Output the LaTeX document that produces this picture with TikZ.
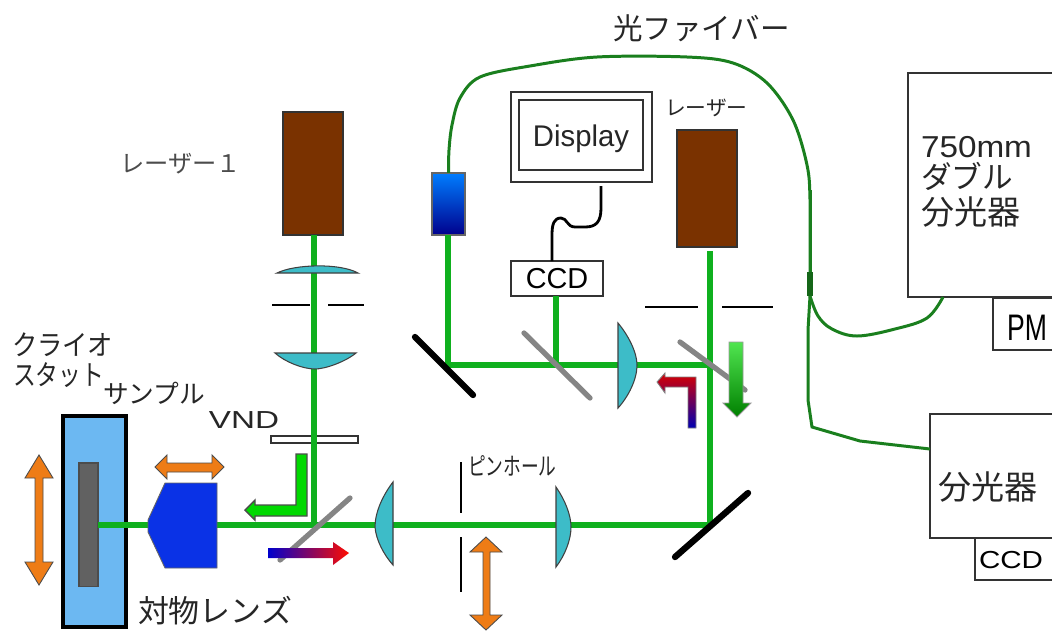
\documentclass[tikz,border=0pt]{standalone}
\usepackage{fontspec}
\setmainfont{Liberation Sans}
\newfontfamily\jp{Noto Sans CJK JP}
\usetikzlibrary{calc}
\definecolor{beamg}{HTML}{0FB01E}
\definecolor{fibg}{HTML}{1A7F1E}
\definecolor{laserb}{HTML}{7A3200}
\definecolor{lensc}{HTML}{3DBCC8}
\definecolor{cryo}{HTML}{6CB8F2}
\definecolor{orng}{HTML}{EE7C16}
\definecolor{objb}{HTML}{0A32E6}
\definecolor{graym}{HTML}{858585}
\tikzset{
 px/.style={x=0.01cm,y=-0.01cm},
 box/.style={draw=black!80,fill=white,line width=0.4pt,inner sep=0pt,outer sep=0pt},
 laser/.style={draw=black!80,fill=laserb,line width=0.4pt,inner sep=0pt,outer sep=0pt,minimum width=0.6cm},
 beam/.style={draw=beamg,line width=1.45pt},
 fiber/.style={draw=fibg,line width=0.85pt},
 lens/.style={draw=black!75,fill=lensc,line width=0.3pt},
 blackm/.style={draw=black,line width=1.8pt,line cap=round},
 graymir/.style={draw=graym,line width=1.5pt,line cap=round},
 slit/.style={draw=black,line width=0.8pt},
 orngarrow/.style={draw=black!70,fill=orng,line width=0.25pt},
 jtxt/.style={font=\jp\fontsize{8.4}{9}\selectfont,text=black!85,inner sep=0pt,outer sep=0pt,anchor=west},
 ltxt/.style={font=\fontsize{8.4}{9}\selectfont,text=black!85,inner sep=0pt,outer sep=0pt},
}
\begin{document}
\begin{tikzpicture}[px]
\useasboundingbox (0,0) rectangle (1052,630);
\clip (0,0) rectangle (1052,630);
\fill[white] (0,0) rectangle (1052,630);
% named points
\coordinate (join1) at (314,525);
\coordinate (corner2) at (710,525);
\coordinate (split2) at (710,365);
\coordinate (corner3) at (448,365);
\coordinate (tap) at (556,365);
\coordinate (sampleface) at (98,525);
\coordinate (fj1) at (810,272);
\coordinate (fj2) at (810,296);
% boxes
\node[laser,minimum height=1.23cm] (laser1) at (313,173.5) {};
\node[laser,minimum height=1.17cm] (laser2) at (707,188.5) {};
\node[draw=black,fill=cryo,line width=1.15pt,inner sep=0pt,minimum width=0.63cm,minimum height=2.11cm] (cryostat) at (94.5,521.5) {};
\node[draw=black!70,fill=black!62,line width=0.3pt,inner sep=0pt,minimum width=0.19cm,minimum height=1.23cm] (sample) at (88.5,524.5) {};
\node[box,minimum width=0.87cm,minimum height=0.07cm] (vnd) at (314.5,439.5) {};
\node[box,minimum width=1.41cm,minimum height=0.90cm] (dispo) at (581.5,137) {};
\node[box,minimum width=1.24cm,minimum height=0.70cm] (disp) at (581,135) {};
\node[ltxt,font=\fontsize{8.5}{9}\selectfont,xscale=.98] (disptxt) at (581,139) {Display};
\node[box,minimum width=0.92cm,minimum height=0.35cm,font=\fontsize{8.2}{9}\selectfont,text=black] (ccd1) at (557,278.5) {CCD};
\node[inner sep=0pt,outer sep=0pt,draw=black!60,line width=0.3pt,top color=blue!30!cyan!70!blue,bottom color=blue!55!black,minimum width=0.33cm,minimum height=0.62cm] (pickup) at (448.5,204) {};
\node[box,minimum width=1.60cm,minimum height=2.24cm] (spec1) at (988,185) {};
\node[box,minimum width=0.70cm,minimum height=0.52cm] (pm) at (1028,324) {};
\node[box,minimum width=1.40cm,minimum height=1.24cm] (spec2) at (1000,476) {};
\node[box,minimum width=0.90cm,minimum height=0.42cm] (ccd2) at (1020,559) {};
% beams
\draw[beam] (join1 |- laser1.south) -- (join1);
\draw[beam] (sampleface) -- (corner2) -- (corner2 |- 0,251);
\draw[beam] (split2) -- (corner3) -- (corner3 |- pickup.south);
\draw[beam] (tap) -- (tap |- ccd1.south);
% fibre
\draw[fiber] plot[smooth,tension=.55] coordinates {(pickup.north) (449,150) (452,125) (460,98) (480,77) (530,66) (597,57) (687,57) (733,63) (767,83) (793,120) (807,165) (810,200) (fj1)};
\draw[fiber] (810,190) -- (fj1);
\draw[draw=fibg!80!black,line width=1.7pt] (fj1) -- (fj2);
\draw[fiber] plot[smooth,tension=.6] coordinates {(fj2) (818,316) (832,329) (857,336) (895,329) (927,318) (943,297)};
\draw[fiber] (fj2) -- (808,330) -- (808,400) -- (812,427) -- (860,441) -- (spec2.west |- 0,449);
% cable
\draw[draw=black,line width=0.8pt] (601,186) -- (601,208) .. controls (601,222) and (596,227) .. (585,227) -- (575,227) .. controls (567,227) and (567,218) .. (561,218) .. controls (554,218) and (552,224) .. (552,235) -- (552,261);
% objective
\draw[draw=black!60,fill=objb,line width=0.25pt] (148,520) -- (165,483) -- (217,483) -- (217,568) -- (165,568) -- (148,532) -- cycle;
% lenses
\draw[lens] (277,273) .. controls (295,264) and (340,263) .. (358,273) -- cycle;
\draw[lens] (275,353) -- (356,353) .. controls (345,362) and (325,369) .. (315,369) .. controls (303,369) and (285,362) .. (275,353) -- cycle;
\draw[lens] (393,482) .. controls (383,495) and (375,512) .. (375,527) .. controls (376,540) and (384,555) .. (393,565) -- cycle;
\draw[lens] (556,487) .. controls (565,500) and (571,515) .. (571,527) .. controls (571,540) and (565,555) .. (556,567) -- cycle;
\draw[lens] (618,323) .. controls (628,335) and (637,352) .. (637,365) .. controls (637,380) and (628,397) .. (618,408) -- cycle;
% apertures
\draw[slit] (272,305) -- (310,305) (328,305) -- (364,305);
\draw[slit] (645,307) -- (698,307) (722,307) -- (773,307);
\draw[draw=black,line width=0.8pt] (461,462) -- (461,513) (461,537) -- (461,592);
% mirrors
\draw[blackm] (675,557) -- (748,493);
\draw[blackm] (415,337) -- (473,395);
\draw[graymir] (280,560) -- (350,498);
\draw[graymir] (524,333) -- (590,398);
\draw[graymir] (680,342) -- (745,390);
% orange arrows
\draw[orngarrow] (39,455) -- (53,478) -- (43,478) -- (43,562) -- (53,562) -- (39,585) -- (25,562) -- (35,562) -- (35,478) -- (25,478) -- cycle;
\draw[orngarrow] (155,467) -- (167,455) -- (167,463) -- (212,463) -- (212,455) -- (224,467) -- (212,479) -- (212,472) -- (167,472) -- (167,479) -- cycle;
\draw[orngarrow] (486,537) -- (502,552) -- (490,552) -- (490,615) -- (502,615) -- (486,630) -- (470,615) -- (483,615) -- (483,552) -- (470,552) -- cycle;
% green L arrow
\draw[draw=black!70,fill=green!85!black,line width=0.4pt] (307,454) -- (307,516) -- (255,516) -- (255,520) -- (245,510) -- (255,500) -- (255,505) -- (296,505) -- (296,454) -- cycle;
% rainbow arrow
\shade[left color=blue!80!black,right color=red!90!orange] (268,548) -- (333,548) -- (333,542) -- (349,553) -- (333,565) -- (333,558) -- (268,558) -- cycle;
% red arrow
\draw[draw=black!50,line width=0.25pt,top color=red!85!black,middle color=red!85!black,bottom color=blue!70!black] (696,428) -- (696,377) -- (665,377) -- (665,373) -- (657,382) -- (665,393) -- (665,387) -- (688,387) -- (688,428) -- cycle;
% green down arrow
\draw[draw=black!40,line width=0.25pt,top color=green!65!white!90!black,bottom color=green!50!black] (729,342) -- (743,342) -- (743,403) -- (751,403) -- (737,417) -- (723,403) -- (729,403) -- cycle;
% texts
\node[jtxt,font=\jp\fontsize{6.9}{7}\selectfont,text=black!70] (t1) at (120,164) {レーザー１};
\node[jtxt] (t2) at (613,28) {光ファイバー};
\node[jtxt,font=\jp\fontsize{5.9}{7}\selectfont] (t3) at (665,108) {レーザー};
\node[jtxt,font=\fontsize{8.6}{9}\selectfont,xscale=1.1] (t4) at (921,147) {750mm};
\node[jtxt,font=\jp\fontsize{8.7}{9}\selectfont] (t5) at (921,176) {ダブル};
\node[jtxt,font=\jp\fontsize{9.4}{10}\selectfont] (t6) at (921,212) {分光器};
\node[jtxt,font=\jp\fontsize{9.4}{10}\selectfont] (t7) at (938,487) {分光器};
\node[ltxt,font=\fontsize{10.5}{11}\selectfont,xscale=.72,text=black] (t8) at (1027,328) {PM};
\node[ltxt,font=\fontsize{7}{8}\selectfont,xscale=1.2,text=black] (t9) at (1011,560) {CCD};
\node[ltxt,font=\fontsize{7}{8}\selectfont,xscale=1.35] (t10) at (244,420) {VND};
\node[jtxt,font=\jp\fontsize{8}{9}\selectfont,xscale=.9] (t11) at (12,345) {クライオ};
\node[jtxt,font=\jp\fontsize{8}{9}\selectfont,xscale=.81] (t12) at (13,375) {スタット};
\node[jtxt,font=\jp\fontsize{7.3}{8}\selectfont] (t13) at (103,393) {サンプル};
\node[jtxt,font=\jp\fontsize{8.8}{9}\selectfont] (t14) at (138,611) {対物レンズ};
\node[jtxt,font=\jp\fontsize{7}{8}\selectfont,xscale=.72] (t15) at (468,466) {ピンホール};
\end{tikzpicture}
\end{document}
